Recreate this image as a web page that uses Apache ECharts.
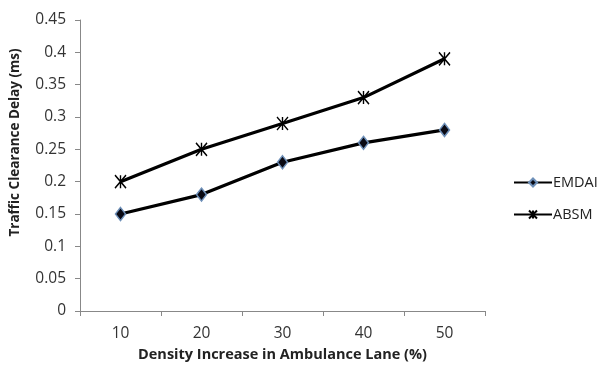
<!DOCTYPE html>
<html>
<head>
<meta charset="utf-8">
<script src="https://cdn.jsdelivr.net/npm/echarts@6/dist/echarts.min.js"></script>
<style>
  html, body { margin: 0; padding: 0; background: #fff; }
  #main { width: 600px; height: 376px; }
</style>
</head>
<body>
<div id="main"></div>
<script>
// data
var categories = ['10', '20', '30', '40', '50'];
var emdai = [0.15, 0.18, 0.23, 0.26, 0.28];
var absm = [0.20, 0.25, 0.29, 0.33, 0.39];

var asterisk = 'path://M0,0L10,13M10,0L0,13M5,0L5,13';
var font = '"Open Sans", "Liberation Sans", sans-serif';

var chart = echarts.init(document.getElementById('main'));
chart.setOption({
    animation: false,
    textStyle: { fontFamily: font },
    grid: { left: 77, right: 115, top: 20, bottom: 65 },
    legend: {
        orient: 'vertical',
        left: 508,
        top: 170,
        itemGap: 17,
        itemWidth: 38,
        itemHeight: 10,
        textStyle: { fontSize: 14.5, color: '#222', fontFamily: font, padding: [0, 0, 0, -4] },
        data: ['EMDAI', 'ABSM']
    },
    xAxis: {
        type: 'category',
        data: categories,
        boundaryGap: true,
        name: 'Density Increase in Ambulance Lane (%)',
        nameLocation: 'middle',
        nameGap: 36,
        nameTextStyle: { fontSize: 14.5, fontWeight: 'bold', color: '#222' },
        axisLine: { lineStyle: { color: '#888', width: 1 } },
        axisTick: { show: true, length: 5, alignWithLabel: false, lineStyle: { color: '#888' } },
        axisLabel: { fontSize: 15.5, color: '#333', margin: 15 }
    },
    yAxis: {
        type: 'value',
        min: 0,
        max: 0.45,
        interval: 0.05,
        name: 'Traffic Clearance Delay (ms)',
        nameLocation: 'middle',
        nameGap: 58,
        nameTextStyle: { fontSize: 13.5, fontWeight: 'bold', color: '#222', padding: [0, 0, 0, 46] },
        splitLine: { show: false },
        axisLine: { show: true, lineStyle: { color: '#888', width: 1 } },
        axisTick: { show: true, length: 5, lineStyle: { color: '#888' } },
        axisLabel: {
            fontSize: 15.5, color: '#333', margin: 14,
            formatter: function (v) { return String(Math.round(v * 100) / 100); }
        }
    },
    series: [
        {
            name: 'EMDAI',
            type: 'line',
            data: emdai,
            symbol: 'diamond',
            symbolSize: [10, 13],
            lineStyle: { color: '#000', width: 3.2 },
            itemStyle: { color: '#0a0a14', borderColor: '#6d8fb8', borderWidth: 1.5 }
        },
        {
            name: 'ABSM',
            type: 'line',
            data: absm,
            symbol: asterisk,
            symbolSize: [11, 13],
            lineStyle: { color: '#000', width: 3.2 },
            itemStyle: { color: 'none', borderColor: '#000', borderWidth: 1.5 }
        }
    ]
});
</script>
</body>
</html>
